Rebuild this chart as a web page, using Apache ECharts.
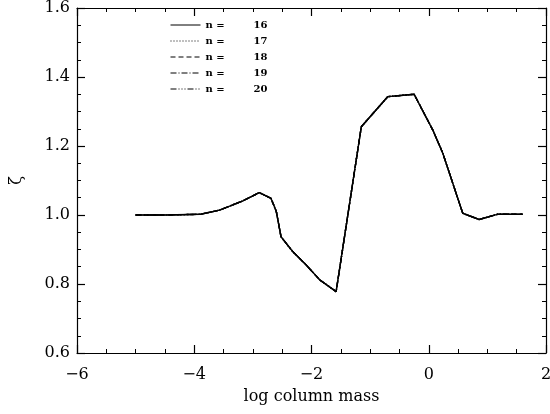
<!DOCTYPE html>
<html>
<head>
<meta charset="utf-8">
<script src="https://cdn.jsdelivr.net/npm/echarts@6/dist/echarts.min.js"></script>
<style>html,body{margin:0;padding:0;background:#fff}#c{width:550px;height:414px}</style>
</head>
<body>
<div id="c"></div>
<script>
// Data (all five n curves coincide)
var seriesNames = ['16', '17', '18', '19', '20'];
var logColumnMass = [-5.0, -4.5, -3.9, -3.57, -3.17, -2.89, -2.69, -2.60, -2.52, -2.32, -2.09, -1.86, -1.58, -1.15, -0.70, -0.25, 0.07, 0.24, 0.58, 0.86, 1.17, 1.60];
var zeta16 = [1.0, 1.0, 1.002, 1.014, 1.041, 1.065, 1.048, 1.01, 0.937, 0.894, 0.855, 0.812, 0.778, 1.256, 1.343, 1.350, 1.246, 1.179, 1.005, 0.987, 1.002, 1.002];
var zeta17 = zeta16.slice();
var zeta18 = zeta16.slice();
var zeta19 = zeta16.slice();
var zeta20 = zeta16.slice();
var zetaAll = [zeta16, zeta17, zeta18, zeta19, zeta20];
var lineTypes = ['solid', [1, 2], [5, 3], [6, 2, 1, 2], [6, 2, 1, 2, 1, 2, 1, 2]];

var font = 'DejaVu Serif';
function pairs(xs, ys) { return xs.map(function (x, i) { return [x, ys[i]]; }); }

var tickCommon = {
  axisLine: { show: true, onZero: false, lineStyle: { color: '#000', width: 1.2 } },
  axisTick: { show: true, inside: true, length: 8, lineStyle: { color: '#000', width: 1.2 } },
  minorTick: { show: true, splitNumber: 4, length: 4, lineStyle: { color: '#000', width: 1 } },
  splitLine: { show: false },
  minorSplitLine: { show: false }
};

var chart = echarts.init(document.getElementById('c'));
chart.setOption({
  backgroundColor: '#fff',
  animation: false,
  grid: { left: 77, right: 4, top: 8, bottom: 61, outerBoundsMode: 'none', containLabel: false },
  legend: {
    show: true,
    orient: 'vertical',
    left: 165,
    top: 15,
    itemWidth: 30,
    itemHeight: 10,
    itemGap: 6,
    data: seriesNames,
    itemStyle: { opacity: 0 },
    lineStyle: { width: 1 },
    formatter: function (name) { return '{a|n =}{b|' + name + '}'; },
    textStyle: {
      fontFamily: font, fontWeight: 'bold', fontSize: 10, color: '#000',
      rich: {
        a: { width: 48, fontFamily: font, fontWeight: 'bold', fontSize: 10 },
        b: { fontFamily: font, fontWeight: 'bold', fontSize: 10 }
      }
    }
  },
  xAxis: [
    Object.assign({
      type: 'value', min: -6, max: 2, interval: 2, position: 'bottom',
      name: 'log column mass', nameLocation: 'middle', nameGap: 36,
      nameTextStyle: { fontFamily: font, fontSize: 16, color: '#000' },
      axisLabel: {
        margin: 14, fontFamily: font, fontSize: 16, color: '#000',
        formatter: function (v) { return String(v).replace('-', '\u2212'); }
      }
    }, tickCommon),
    Object.assign({
      type: 'value', min: -6, max: 2, interval: 2, position: 'top',
      axisLabel: { show: false }
    }, tickCommon)
  ],
  yAxis: [
    Object.assign({
      type: 'value', min: 0.6, max: 1.6, interval: 0.2, position: 'left',
      name: '\u03B6', nameLocation: 'middle', nameGap: 52, nameRotate: 90,
      nameTextStyle: { fontFamily: font, fontSize: 16, color: '#000' },
      axisLabel: {
        margin: 7, fontFamily: font, fontSize: 16, color: '#000',
        formatter: function (v) { return v.toFixed(1); }
      }
    }, tickCommon),
    Object.assign({
      type: 'value', min: 0.6, max: 1.6, interval: 0.2, position: 'right',
      axisLabel: { show: false }
    }, tickCommon)
  ],
  series: seriesNames.map(function (n, i) {
    return {
      name: n,
      type: 'line',
      xAxisIndex: 0,
      yAxisIndex: 0,
      data: pairs(logColumnMass, zetaAll[i]),
      showSymbol: false,
      symbol: 'none',
      lineStyle: { color: '#000', width: 1.4, type: lineTypes[i] },
      itemStyle: { color: '#000' }
    };
  })
});
</script>
</body>
</html>
